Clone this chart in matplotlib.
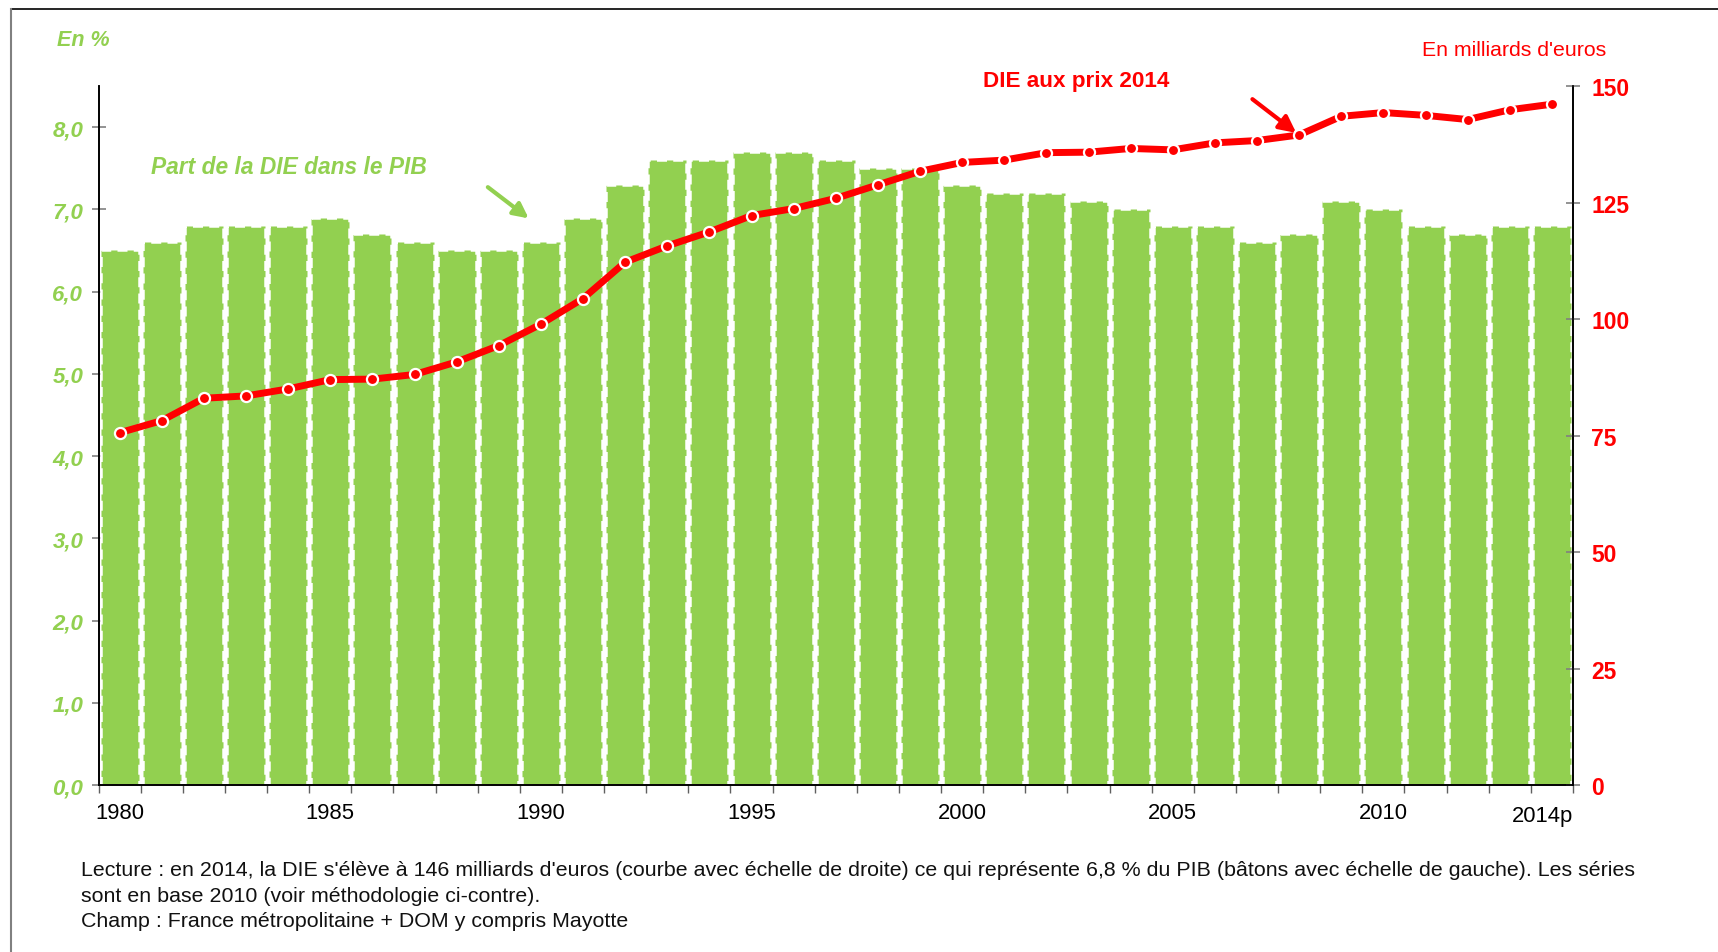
import matplotlib.pyplot as plt
from matplotlib.lines import Line2D
import matplotlib.transforms as mtransforms
import numpy as np

plt.rcParams['font.family'] = ['Liberation Sans', 'DejaVu Sans']

# données
years = list(range(1980, 2015))
part_pib = [6.5, 6.6, 6.8, 6.8, 6.8, 6.9, 6.7, 6.6, 6.5, 6.5,
            6.6, 6.9, 7.3, 7.6, 7.6, 7.7, 7.7, 7.6, 7.5, 7.5,
            7.3, 7.2, 7.2, 7.1, 7.0, 6.8, 6.8, 6.6, 6.7, 7.1,
            7.0, 6.8, 6.7, 6.8, 6.8]
die_2014 = [75.6, 78.2, 83.0, 83.5, 85.0, 87.0, 87.1, 88.1, 90.8, 94.3,
            98.9, 104.4, 112.2, 115.7, 118.7, 122.2, 123.7, 125.9, 128.8, 131.7,
            133.6, 134.1, 135.7, 135.8, 136.6, 136.3, 137.8, 138.3, 139.5, 143.5,
            144.3, 143.7, 142.8, 144.9, 146.1]
xlabels = ['1980', '1985', '1990', '1995', '2000', '2005', '2010', '2014p']
left_ticks = [0, 1, 2, 3, 4, 5, 6, 7, 8]
right_ticks = [0, 25, 50, 75, 100, 125, 150]

green = '#92D050'
red = '#FF0000'

fig = plt.figure(figsize=(17.18, 9.53), dpi=100)
ax = fig.add_axes([0.0574, 0.1752, 0.8582, 0.7335])
ax2 = ax.twinx()

x = np.arange(len(years))

# bâtons : part de la DIE dans le PIB
ax.bar(x, part_pib, width=0.9, color=green, edgecolor='white',
       linewidth=1.8, linestyle=(0, (4, 2.5)), zorder=2)
ax.set_xlim(-0.5, len(years) - 0.5)
ax.set_ylim(0, 8.5)
ax.set_yticks(left_ticks)
ax.set_yticklabels([('%.1f' % v).replace('.', ',') for v in left_ticks],
                   color=green, fontsize=16, fontweight='bold', style='italic')
ax.tick_params(axis='y', direction='inout', length=10, width=1.2,
               color='#808080', pad=6)

# ticks des années
label_pos = [years.index(int(l[:4])) for l in xlabels]
ax.set_xticks(label_pos)
ax.set_xticklabels(xlabels, fontsize=15.8)
ax.set_xticks(np.arange(len(years) + 1) - 0.5, minor=True)
ax.tick_params(axis='x', which='major', length=0, pad=12)
ax.tick_params(axis='x', which='minor', length=6, width=1, color='#606060',
               direction='out')
last = ax.get_xticklabels()[-1]
last.set_transform(last.get_transform() +
                   mtransforms.ScaledTranslation(-0.09, -0.03, fig.dpi_scale_trans))

for side in ['top']:
    ax.spines[side].set_visible(False)
    ax2.spines[side].set_visible(False)
for sp in ['left', 'bottom', 'right']:
    ax.spines[sp].set_linewidth(1.2)
    ax2.spines[sp].set_linewidth(1.2)

# courbe : DIE aux prix 2014
ax2.plot(x, die_2014, color=red, linewidth=5, marker='o', markersize=8,
         markerfacecolor=red, markeredgecolor='white', markeredgewidth=1.6,
         zorder=3)
ax2.set_ylim(0, 150)
ax2.set_yticks(right_ticks)
ax2.set_yticklabels([str(v) for v in right_ticks], color=red, fontsize=16.5,
                    fontweight='bold')
ax2.tick_params(axis='y', direction='inout', length=10, width=1.2,
                color='#808080', pad=8)

# annotations
fig.text(57 / 1718, 1 - 41 / 953, 'En %', color=green, fontsize=15.5,
         fontweight='bold', style='italic', va='center', ha='left')
fig.text(1606 / 1718, 1 - 51 / 953, "En milliards d'euros", color=red,
         fontsize=15.3, va='center', ha='right')
fig.text(1076 / 1718, 1 - 81 / 953, 'DIE aux prix 2014', color=red,
         fontsize=16.2, fontweight='bold', va='center', ha='center')
fig.text(151 / 1718, 1 - 168 / 953, 'Part de la DIE dans le PIB', color=green,
         fontsize=16.4, fontweight='bold', style='italic', va='center', ha='left')

ax.annotate('', xy=(9.71, 6.89), xytext=(8.74, 7.27),
            arrowprops=dict(arrowstyle='-|>,head_length=0.9,head_width=0.45',
                            color=green, lw=3, shrinkA=0, shrinkB=0))
ax.annotate('', xy=(27.93, 7.93), xytext=(26.89, 8.34),
            arrowprops=dict(arrowstyle='-|>,head_length=1.0,head_width=0.5',
                            color=red, lw=3, shrinkA=0, shrinkB=0),
            annotation_clip=False)

notes = ["Lecture : en 2014, la DIE s'élève à 146 milliards d'euros (courbe avec échelle de droite) "
         "ce qui représente 6,8 % du PIB (bâtons avec échelle de gauche). Les séries",
         "sont en base 2010 (voir méthodologie ci-contre).",
         "Champ : France métropolitaine + DOM y compris Mayotte"]
for i, line in enumerate(notes):
    fig.text(81 / 1718, 1 - (871 + 25.3 * i) / 953, line, fontsize=15.4,
             va='center', ha='left', color='#111111')

# cadre
fig.add_artist(Line2D([11 / 1718, 1], [1 - 10 / 953, 1 - 10 / 953],
                      color='black', lw=1.2))
fig.add_artist(Line2D([11 / 1718, 11 / 1718], [0, 1 - 10 / 953],
                      color='#808080', lw=1.5))

fig.savefig('out.png', dpi=100)
